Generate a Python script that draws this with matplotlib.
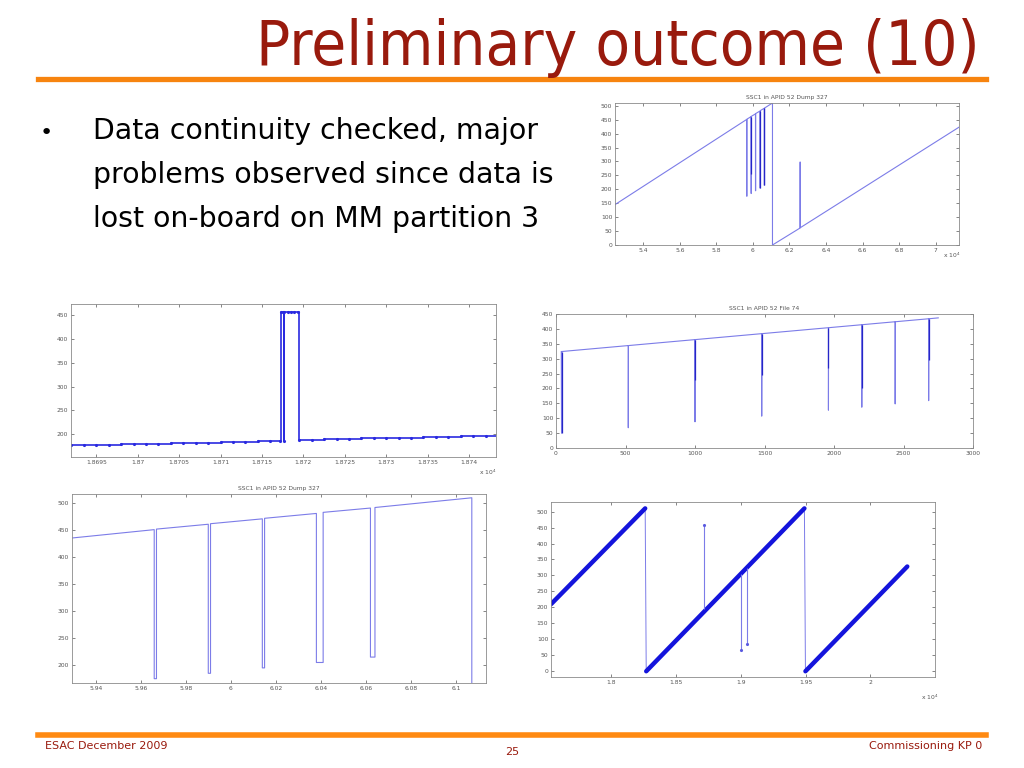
import matplotlib
matplotlib.use('Agg')
import matplotlib.pyplot as plt
from matplotlib.lines import Line2D

# ---------------- data ----------------
title_text = "Preliminary outcome (10)"
bullet_lines = ["Data continuity checked, major",
                "problems observed since data is",
                "lost on-board on MM partition 3"]
footer_left = "ESAC December 2009"
footer_mid = "25"
footer_right = "Commissioning KP 0"

# Dump 327 (used in top-right full view and bottom-left zoom)
dump_x = [5.245, 5.966, 5.966, 5.967, 5.967, 5.990, 5.990, 5.991, 5.991,
          6.014, 6.014, 6.015, 6.015, 6.038, 6.038, 6.041, 6.041,
          6.062, 6.062, 6.064, 6.064, 6.107, 6.107, 6.258, 6.258, 6.259, 6.259, 7.13]
dump_y = [145, 451, 175, 175, 452, 461, 185, 185, 462,
          471, 195, 195, 472, 481, 205, 205, 483,
          491, 215, 215, 492, 510, 0, 61, 298, 298, 62, 424]
dump_dark_x = [5.990, 6.039, 6.063]
dump_dark_lo = [256, 205, 215]
dump_dark_hi = [461, 481, 491]
dumpA_xticks = [5.4, 5.6, 5.8, 6.0, 6.2, 6.4, 6.6, 6.8, 7.0]
dumpA_xlabels = ['5.4', '5.6', '5.8', '6', '6.2', '6.4', '6.6', '6.8', '7']
dumpA_yticks = [0, 50, 100, 150, 200, 250, 300, 350, 400, 450, 500]
dumpD_xticks = [5.94, 5.96, 5.98, 6.0, 6.02, 6.04, 6.06, 6.08, 6.1]
dumpD_xlabels = ['5.94', '5.96', '5.98', '6', '6.02', '6.04', '6.06', '6.08', '6.1']
dumpD_yticks = [200, 250, 300, 350, 400, 450, 500]

# Middle-left stair series
stair_x = [1.86920, 1.86935, 1.86950, 1.86965, 1.86980, 1.86995, 1.87010, 1.87025,
           1.87040, 1.87055, 1.87070, 1.87085, 1.87100, 1.87115, 1.87130, 1.87145,
           1.87160, 1.87172, 1.87173, 1.87175, 1.87176, 1.87177, 1.87181, 1.87185,
           1.87189, 1.87193, 1.87195, 1.87210, 1.87225, 1.87240, 1.87255, 1.87270,
           1.87285, 1.87300, 1.87315, 1.87330, 1.87345, 1.87360, 1.87375, 1.87390,
           1.87405, 1.87420, 1.87435]
stair_y = [177, 177, 178, 178, 179, 179, 180, 180,
           181, 181, 182, 182, 183, 184, 184, 185,
           185, 186, 458, 458, 185, 458, 458, 458,
           458, 458, 188, 188, 189, 190, 190, 191,
           191, 192, 193, 193, 194, 194, 195, 196,
           196, 197, 198]
stair_xticks = [1.8695, 1.8700, 1.8705, 1.8710, 1.8715, 1.8720, 1.8725, 1.8730, 1.8735, 1.8740]
stair_xlabels = ['1.8695', '1.87', '1.8705', '1.871', '1.8715', '1.872', '1.8725', '1.873', '1.8735', '1.874']
stair_yticks = [200, 250, 300, 350, 400, 450]

# File 74
file_x = [38, 40, 41, 520, 520, 521, 1000, 1000, 1001, 1480, 1480, 1481,
          1960, 1960, 1961, 2200, 2200, 2201, 2440, 2440, 2441, 2681, 2681, 2682, 2750]
file_y = [324, 50, 324, 344, 68, 344, 364, 88, 364, 384, 107, 384,
          404, 127, 404, 414, 137, 414, 424, 148, 424, 434, 159, 434, 437]
file_dark_x = [40, 1000, 1480, 1960, 2200, 2681]
file_dark_lo = [50, 228, 245, 268, 200, 296]
file_dark_hi = [324, 364, 384, 404, 414, 434]
file_xticks = [0, 500, 1000, 1500, 2000, 2500, 3000]
file_yticks = [0, 50, 100, 150, 200, 250, 300, 350, 400, 450]

# Bottom-right sawtooth
saw_x = [1.7535, 1.8262, 1.8270, 1.9491, 1.9499, 2.0285]
saw_y = [210, 510, 0, 510, 0, 328]
ramp_x = [[1.7535, 1.8262], [1.8270, 1.9491], [1.9499, 2.0285]]
ramp_y = [[210, 510], [0, 510], [0, 328]]
spike_x = [1.8715, 1.9005, 1.9051]
spike_from = [195, 305, 323]
spike_to = [458, 65, 85]
saw_xticks = [1.80, 1.85, 1.90, 1.95, 2.00]
saw_xlabels = ['1.8', '1.85', '1.9', '1.95', '2']
saw_yticks = [0, 50, 100, 150, 200, 250, 300, 350, 400, 450, 500]

# ---------------- figure ----------------
W, H = 1024, 768
fig = plt.figure(figsize=(10.24, 7.68), dpi=100)
fig.patch.set_facecolor('white')

LIGHT = '#7c7ce8'
DARK = '#2626c8'
BLUE = '#1414dc'
RED = '#991a0d'
ORANGE = '#f7840f'


def ax_px(x0, y0, x1, y1):
    ax = fig.add_axes([x0 / W, 1 - y1 / H, (x1 - x0) / W, (y1 - y0) / H])
    for s in ax.spines.values():
        s.set_color('#8a8a8a')
        s.set_linewidth(0.6)
    ax.tick_params(direction='in', length=2.5, width=0.5, colors='#555555',
                   labelsize=4.3, top=True, right=True, pad=2)
    return ax


def px_text(x, y, s, **kw):
    fig.text(x / W, 1 - y / H, s, **kw)


# header
px_text(980, 65, title_text, ha='right', va='baseline', color=RED, fontsize=45.5,
        family=['Liberation Sans Narrow', 'DejaVu Sans'], fontstretch='condensed')
fig.add_artist(Line2D([38 / W, 986 / W], [1 - 79 / H] * 2, color=ORANGE, lw=3.8))

# bullets
px_text(40, 139, "•", ha='left', va='baseline', fontsize=16, color='black')
for i, line in enumerate(bullet_lines):
    px_text(93, 139 + 44 * i, line, ha='left', va='baseline', fontsize=20.4,
            color='black', family='DejaVu Sans')

# footer
fig.add_artist(Line2D([38 / W, 986 / W], [1 - 734.5 / H] * 2, color='#ff8a12', lw=4.0))
px_text(45, 746, footer_left, ha='left', va='center', fontsize=8, color=RED)
px_text(512, 752, footer_mid, ha='center', va='center', fontsize=8, color=RED)
px_text(982, 746, footer_right, ha='right', va='center', fontsize=8, color=RED)

# A: top-right
axA = ax_px(615, 103, 959, 245)
axA.plot(dump_x, dump_y, color=LIGHT, lw=0.8)
axA.vlines(dump_dark_x, dump_dark_lo, dump_dark_hi, color=DARK, lw=0.9)
axA.set_xlim(5.245, 7.128)
axA.set_ylim(0, 510)
axA.set_xticks(dumpA_xticks, dumpA_xlabels)
axA.set_yticks(dumpA_yticks)
axA.set_title("SSC1 in APID 52 Dump 327", fontsize=4.3, color='#555555', pad=3)
px_text(952, 255, r'x 10$^4$', ha='center', va='center', fontsize=4.3, color='#555555')

# B: middle-left
axB = ax_px(71, 304, 496, 457)
axB.plot(stair_x, stair_y, color='#2a2ae0', lw=1.2, drawstyle='steps-post',
         marker='.', ms=2.5)
axB.set_xlim(1.869194, 1.874326)
axB.set_ylim(152, 474)
axB.set_xticks(stair_xticks, stair_xlabels)
axB.set_yticks(stair_yticks)
px_text(488, 472, r'x 10$^4$', ha='center', va='center', fontsize=4.3, color='#555555')

# C: middle-right
axC = ax_px(556, 314, 973, 448)
axC.plot(file_x, file_y, color=LIGHT, lw=0.8)
axC.vlines(file_dark_x, file_dark_lo, file_dark_hi, color=DARK, lw=0.9)
axC.set_xlim(0, 3000)
axC.set_ylim(0, 450)
axC.set_xticks(file_xticks)
axC.set_yticks(file_yticks)
axC.set_title("SSC1 in APID 52 File 74", fontsize=4.3, color='#555555', pad=3)

# D: bottom-left
axD = ax_px(72, 494, 486, 683)
axD.plot(dump_x, dump_y, color=LIGHT, lw=0.8)
axD.set_xlim(5.9295, 6.1133)
axD.set_ylim(167, 517)
axD.set_xticks(dumpD_xticks, dumpD_xlabels)
axD.set_yticks(dumpD_yticks)
axD.set_title("SSC1 in APID 52 Dump 327", fontsize=4.3, color='#555555', pad=3)

# E: bottom-right
axE = ax_px(551, 502, 935, 677)
axE.plot(saw_x, saw_y, color=LIGHT, lw=0.7)
for rx, ry in zip(ramp_x, ramp_y):
    axE.plot(rx, ry, color=BLUE, lw=3.2, solid_capstyle='round')
axE.vlines(spike_x, spike_from, spike_to, color=LIGHT, lw=0.8)
axE.plot(spike_x, spike_to, ls='none', marker='.', ms=2.5, color='#5a5ae0')
axE.set_xlim(1.7535, 2.0499)
axE.set_ylim(-18, 530)
axE.set_xticks(saw_xticks, saw_xlabels)
axE.set_yticks(saw_yticks)
px_text(930, 697, r'x 10$^4$', ha='center', va='center', fontsize=4.3, color='#555555')

fig.savefig('out.png', dpi=100, facecolor='white')
